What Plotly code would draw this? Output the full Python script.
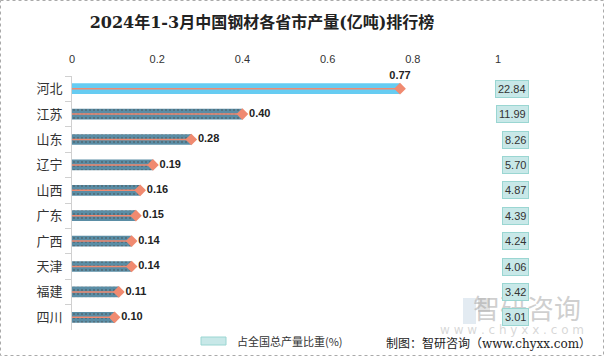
import plotly.graph_objects as go

provinces = ["河北", "江苏", "山东", "辽宁", "山西", "广东", "广西", "天津", "福建", "四川"]
output_values = [0.77, 0.40, 0.28, 0.19, 0.16, 0.15, 0.14, 0.14, 0.11, 0.10]
share_pct = ["22.84", "11.99", "8.26", "5.70", "4.87", "4.39", "4.24", "4.06", "3.42", "3.01"]
x_ticks = [0, 0.2, 0.4, 0.6, 0.8, 1]

W, H = 604, 356
L, R, T, B = 72, 106, 76, 26
PW, PH = W - L - R, H - T - B


def px(xp):
    return (xp - L) / PW


def py(yp):
    return (H - B - yp) / PH


bar_colors = ["#66CCF2"] + ["#5A8DA5"] * (len(provinces) - 1)
patterns = [""] + ["."] * (len(provinces) - 1)

fig = go.Figure()
fig.add_trace(go.Bar(
    x=output_values, y=provinces, orientation="h",
    marker=dict(color=bar_colors, line=dict(width=0),
                pattern=dict(shape=patterns, fgcolor="#7FA6B8", size=4, solidity=0.2)),
    width=0.42, hoverinfo="skip", showlegend=False,
))

line_x, line_y = [], []
for p, v in zip(provinces, output_values):
    line_x += [0, v, None]
    line_y += [p, p, None]
fig.add_trace(go.Scatter(
    x=line_x, y=line_y, mode="lines",
    line=dict(color="#F08A70", width=1.5), hoverinfo="skip", showlegend=False,
))
fig.add_trace(go.Scatter(
    x=output_values, y=provinces, mode="markers+text",
    marker=dict(symbol="diamond", size=9, color="#F08A70"),
    text=[f"{v:.2f}" for v in output_values],
    textposition=["top center"] + ["middle right"] * (len(provinces) - 1),
    textfont=dict(family="Liberation Sans, Arial", size=11, color="#222222", weight="bold"),
    hoverinfo="skip", showlegend=False, cliponaxis=False,
))

annotations = []
# watermark (drawn first so it sits beneath the share boxes)
annotations.append(dict(x=px(583), y=py(307), xref="paper", yref="paper", xanchor="right",
                        yanchor="middle", text="智研咨询", showarrow=False,
                        font=dict(family="Noto Sans CJK SC", size=27, color="rgba(160,160,160,0.5)")))
annotations.append(dict(x=px(586), y=py(330), xref="paper", yref="paper", xanchor="right",
                        yanchor="middle", text="w w w . c h y x x . c o m", showarrow=False,
                        font=dict(family="DejaVu Sans", size=12, color="rgba(175,175,175,0.5)")))

for p, s in zip(provinces, share_pct):
    annotations.append(dict(
        x=px(529), xref="paper", y=p, yref="y", xanchor="right", yanchor="middle",
        text=s, showarrow=False,
        font=dict(family="Liberation Sans, Arial", size=11, color="#333333"),
        bgcolor="#C8E8E8", bordercolor="#9AD6D2", borderwidth=1, borderpad=2,
    ))

# legend
annotations.append(dict(x=px(235), y=py(341), xref="paper", yref="paper", xanchor="left",
                        yanchor="middle", text="占全国总产量比重(%)", showarrow=False,
                        font=dict(family="Noto Sans CJK SC", size=11, color="#333333")))
# source
annotations.append(dict(x=px(593), y=py(343), xref="paper", yref="paper", xanchor="right",
                        yanchor="middle", text="制图：智研咨询（www.chyxx.com）", showarrow=False,
                        font=dict(family="DejaVu Serif, Noto Sans CJK SC", size=12, color="#222222")))

shapes = [
    # watermark logo
    dict(type="rect", xref="paper", yref="paper", x0=px(463), x1=px(476), y0=py(324), y1=py(298),
         fillcolor="rgba(200,215,230,0.5)", line=dict(width=0), layer="below"),
    dict(type="rect", xref="paper", yref="paper", x0=px(478), x1=px(490), y0=py(312), y1=py(298),
         fillcolor="rgba(200,200,200,0.5)", line=dict(width=0), layer="below"),
    # legend swatch
    dict(type="rect", xref="paper", yref="paper", x0=px(201), x1=px(226), y0=py(337), y1=py(345),
         fillcolor="#C8E8E8", line=dict(color="#9AD6D2", width=1)),
    # outer frame
    dict(type="rect", xref="paper", yref="paper", x0=px(0.5), x1=px(603.5), y0=py(0.5), y1=py(355.5),
         fillcolor="rgba(0,0,0,0)", line=dict(color="#AAAAAA", width=1, dash="dot")),
]

fig.update_layout(
    width=W, height=H,
    margin=dict(l=L, r=R, t=T, b=B, autoexpand=False),
    paper_bgcolor="white", plot_bgcolor="white",
    title=dict(text="<b>2024年1-3月中国钢材各省市产量(亿吨)排行榜</b>", x=px(262), xref="paper",
               xanchor="center", y=1 - 22 / H, yanchor="middle",
               font=dict(family="DejaVu Serif, Noto Sans CJK SC", size=16, color="#222222")),
    xaxis=dict(side="top", range=[0, 1], tickvals=x_ticks, ticktext=[f"{t:g}" for t in x_ticks],
               showgrid=False, zeroline=False, showline=False, automargin=False,
               ticks="outside", ticklen=8, tickcolor="rgba(0,0,0,0)",
               tickfont=dict(family="Liberation Sans, Arial", size=11, color="#333333")),
    yaxis=dict(categoryorder="array", categoryarray=provinces,
               range=[len(provinces) - 0.5, -0.5],
               showgrid=False, zeroline=False, showline=True, linecolor="#D0D0D0", linewidth=1,
               ticks="outside", tickson="boundaries", ticklen=6, tickcolor="#D0D0D0",
               automargin=False, ticklabelstandoff=6,
               tickfont=dict(family="Noto Sans CJK SC", size=13, color="#333333")),
    annotations=annotations, shapes=shapes,
)

fig.write_html("out.html", config={"displayModeBar": False},
               post_script="document.body.style.margin='0';document.body.style.overflow='hidden';")
